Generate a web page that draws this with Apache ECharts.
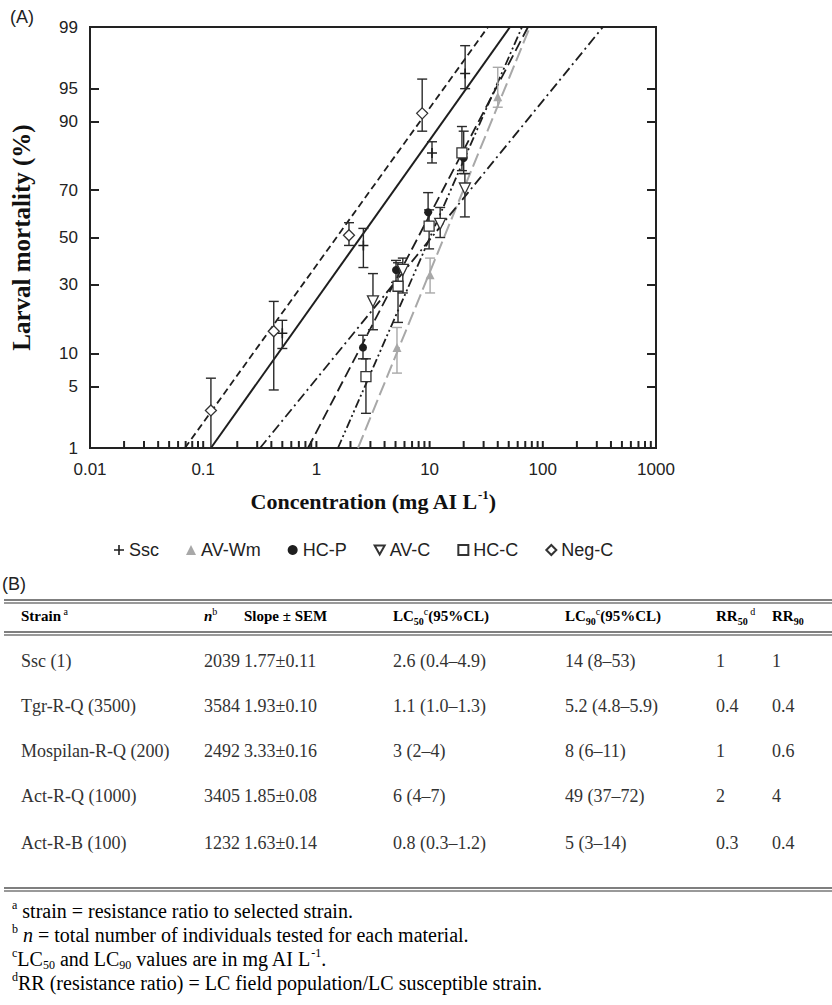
<!DOCTYPE html>
<html>
<head>
<meta charset="utf-8">
<script src="https://cdn.jsdelivr.net/npm/echarts@6/dist/echarts.min.js"></script>
<style>
html,body{margin:0;padding:0;background:#fff;}
#chart{width:832px;height:1005px;}
</style>
</head>
<body>
<div id="chart"></div>
<script>
// ---------- DATA ----------
const concLabels = [0.01, 0.1, 1, 10, 100, 1000];
const mortalityTicks = [1, 5, 10, 30, 50, 70, 90, 95, 99];
const strainNames = ['Ssc', 'AV-Wm', 'HC-P', 'AV-C', 'HC-C', 'Neg-C'];

// points: [concentration, mortality %, lower %, upper %]
const sscPoints   = [[0.5, 14.5, 11, 18], [2.6, 46.5, 37, 54], [10.5, 82.5, 79.5, 85.5], [20.6, 96.5, 95, 98.3]];
const avwmPoints  = [[5.15, 11.2, 6.7, 16], [10.1, 34, 27, 41], [40, 94, 92.5, 97]];
const hcpPoints   = [[2.58, 11.2, 9, 14], [5.05, 36, 31, 40], [9.7, 61, 55, 69], [20, 81, 76, 88]];
const avcPoints   = [[3.16, 24, 15.4, 34.5], [5.8, 36, 27, 41], [12.4, 56, 50, 63], [20.5, 70.6, 59, 76]];
const hccPoints   = [[2.74, 6.2, 2.6, 9], [5.26, 29.5, 17.4, 39], [9.9, 55, 45, 62], [19.3, 82.5, 77, 89]];
const negcPoints  = [[0.117, 2.8, 1, 6], [0.42, 15, 4.6, 24], [1.94, 51, 46.5, 56.5], [8.6, 91.5, 88, 96]];

// fitted probit lines: concentration where the line meets 1 % and 99 %
const sscFit  = [0.117, 51.3];
const avwmFit = [2.33, 77];
const hcpFit  = [0.843, 74];
const avcFit  = [0.318, 340];
const hccFit  = [1.55, 65.5];
const negcFit = [0.069, 32.8];

// table (B)
const tableStrains = ['Ssc (1)', 'Tgr-R-Q (3500)', 'Mospilan-R-Q (200)', 'Act-R-Q (1000)', 'Act-R-B (100)'];
const tableN      = ['2039', '3584', '2492', '3405', '1232'];
const tableSlope  = ['1.77±0.11', '1.93±0.10', '3.33±0.16', '1.85±0.08', '1.63±0.14'];
const tableLC50   = ['2.6 (0.4–4.9)', '1.1 (1.0–1.3)', '3 (2–4)', '6 (4–7)', '0.8 (0.3–1.2)'];
const tableLC90   = ['14 (8–53)', '5.2 (4.8–5.9)', '8 (6–11)', '49 (37–72)', '5 (3–14)'];
const tableRR50   = ['1', '0.4', '1', '2', '0.3'];
const tableRR90   = ['1', '0.4', '0.6', '4', '0.4'];

// ---------- HELPERS ----------
function probit(pct) {
  const p = pct / 100;
  const a = [-3.969683028665376e+01, 2.209460984245205e+02, -2.759285104469687e+02, 1.383577518672690e+02, -3.066479806614716e+01, 2.506628277459239e+00];
  const b = [-5.447609879822406e+01, 1.615858368580409e+02, -1.556989798598866e+02, 6.680131188771972e+01, -1.328068155288572e+01];
  const c = [-7.784894002430293e-03, -3.223964580411365e-01, -2.400758277161838e+00, -2.549671010229583e+00, 4.374664141464968e+00, 2.938163982698783e+00];
  const d = [7.784695709041462e-03, 3.224671290700398e-01, 2.445134137142996e+00, 3.754408661907416e+00];
  const plow = 0.02425, phigh = 1 - plow;
  let q, r;
  if (p < plow) {
    q = Math.sqrt(-2 * Math.log(p));
    return (((((c[0]*q+c[1])*q+c[2])*q+c[3])*q+c[4])*q+c[5]) / ((((d[0]*q+d[1])*q+d[2])*q+d[3])*q+1);
  } else if (p <= phigh) {
    q = p - 0.5; r = q*q;
    return (((((a[0]*r+a[1])*r+a[2])*r+a[3])*r+a[4])*r+a[5])*q / (((((b[0]*r+b[1])*r+b[2])*r+b[3])*r+b[4])*r+1);
  } else {
    q = Math.sqrt(-2 * Math.log(1 - p));
    return -(((((c[0]*q+c[1])*q+c[2])*q+c[3])*q+c[4])*q+c[5]) / ((((d[0]*q+d[1])*q+d[2])*q+d[3])*q+1);
  }
}
const zMin = probit(1), zMax = probit(99);
const yTickZ = mortalityTicks.map(probit);
const yInnerZ = mortalityTicks.slice(1, -1).map(probit);
function yLabel(v) {
  let best = 0, bd = Infinity;
  yTickZ.forEach((z, i) => { const dd = Math.abs(z - v); if (dd < bd) { bd = dd; best = i; } });
  return String(mortalityTicks[best]);
}
const xLabelLog = concLabels.map(v => Math.log10(v));
function xLabel(v) {
  let best = 0, bd = Infinity;
  xLabelLog.forEach((l, i) => { const dd = Math.abs(l - v); if (dd < bd) { bd = dd; best = i; } });
  return String(concLabels[best]);
}
// tick marks of the concentration axis: 2..9 in every decade plus inner decades
const xTickConc = [];
concLabels.slice(0, -1).forEach((dec, i) => {
  for (let k = 2; k <= 9; k++) xTickConc.push(+(k * dec).toPrecision(3));
  if (i > 0) xTickConc.push(dec);
});

const toPts = arr => arr.map(p => [p[0], probit(p[1])]);
const toErr = arr => arr.map(p => [p[0], probit(p[2]), probit(p[3])]);
const toFit = f => [[f[0], zMin], [f[1], zMax]];

const DARK = '#1e1e1e', GREY = '#a8a8a8';
const plusPath = 'path://M4.2,0H5.8V4.2H10V5.8H5.8V10H4.2V5.8H0V4.2H4.2Z';
const downTri = 'path://M0,0L10,0L5,9Z';

const seriesStyle = {
  'Ssc':   { pts: sscPoints,  fit: sscFit,  symbol: plusPath, size: 10, fill: DARK, border: DARK, bw: 0, line: 'solid', lw: 2, color: DARK },
  'AV-Wm': { pts: avwmPoints, fit: avwmFit, symbol: 'triangle', size: 9, fill: GREY, border: GREY, bw: 0, line: [14, 5], lw: 2, color: GREY },
  'HC-P':  { pts: hcpPoints,  fit: hcpFit,  symbol: 'circle', size: 8, fill: DARK, border: DARK, bw: 0, line: [11, 5], lw: 1.8, color: DARK },
  'AV-C':  { pts: avcPoints,  fit: avcFit,  symbol: downTri, size: 11, fill: '#fff', border: '#333', bw: 1.3, line: [10, 4, 2, 4], lw: 1.8, color: DARK },
  'HC-C':  { pts: hccPoints,  fit: hccFit,  symbol: 'rect', size: 10, fill: '#fff', border: '#333', bw: 1.3, line: [9, 3, 2, 3, 2, 3], lw: 1.8, color: DARK },
  'Neg-C': { pts: negcPoints, fit: negcFit, symbol: 'diamond', size: 11, fill: '#fff', border: '#333', bw: 1.3, line: [7, 4], lw: 1.8, color: DARK }
};

// data are placed with the (hidden) logarithmic axis xAxis[1]
const series = [];
strainNames.forEach(name => {
  const s = seriesStyle[name];
  series.push({
    name: name + ' fit', type: 'line', xAxisIndex: 1, yAxisIndex: 0,
    data: toFit(s.fit), symbol: 'none', silent: true, z: 2,
    lineStyle: { color: s.color, width: s.lw, type: s.line }
  });
});
strainNames.forEach(name => {
  const s = seriesStyle[name];
  series.push({
    name: name + ' err', type: 'custom', xAxisIndex: 1, yAxisIndex: 0, z: 3, silent: true,
    data: toErr(s.pts),
    encode: { x: 0, y: [1, 2] },
    renderItem: function (params, api) {
      const x = api.value(0);
      const p1 = api.coord([x, api.value(1)]);
      const p2 = api.coord([x, api.value(2)]);
      const hw = 5;
      const st = { stroke: s.color === GREY ? GREY : '#2a2a2a', lineWidth: 1.4 };
      return { type: 'group', children: [
        { type: 'line', shape: { x1: p1[0], y1: p1[1], x2: p2[0], y2: p2[1] }, style: st },
        { type: 'line', shape: { x1: p1[0]-hw, y1: p1[1], x2: p1[0]+hw, y2: p1[1] }, style: st },
        { type: 'line', shape: { x1: p2[0]-hw, y1: p2[1], x2: p2[0]+hw, y2: p2[1] }, style: st }
      ]};
    }
  });
});
strainNames.forEach(name => {
  const s = seriesStyle[name];
  series.push({
    name: name, type: 'scatter', xAxisIndex: 1, yAxisIndex: 0, z: 4,
    data: toPts(s.pts), symbol: s.symbol, symbolSize: s.size,
    itemStyle: { color: s.fill, borderColor: s.border, borderWidth: s.bw, opacity: 1 }
  });
});
// inward tick marks of the logarithmic concentration axis
series.push({
  name: 'x ticks', type: 'scatter', xAxisIndex: 1, yAxisIndex: 0, z: 6, silent: true, clip: false,
  data: xTickConc.map(v => [v, zMin]),
  symbol: 'rect', symbolSize: [2, 7], symbolOffset: [0, -3.5],
  itemStyle: { color: '#222', opacity: 1 }
});

// ---------- GRAPHICS (labels, table, footnotes) ----------
const SERIF = '"Liberation Serif", "DejaVu Serif", serif';
const SANS = '"Liberation Sans", Arial, sans-serif';
const graphics = [];
graphics.push({ type: 'text', x: 10, y: 17, style: { text: '(A)', font: '18px ' + SANS, fill: '#222', verticalAlign: 'middle' } });
graphics.push({ type: 'text', x: 2, y: 584, style: { text: '(B)', font: '18px ' + SANS, fill: '#222', verticalAlign: 'middle' } });

function rule(y) {
  graphics.push({ type: 'line', shape: { x1: 4, y1: y, x2: 832, y2: y }, style: { stroke: '#555', lineWidth: 1.3 } });
  graphics.push({ type: 'line', shape: { x1: 4, y1: y + 3, x2: 832, y2: y + 3 }, style: { stroke: '#777', lineWidth: 1.3 } });
}
rule(600); rule(632); rule(888);

const colX = [21, 204, 244, 393, 565, 716, 772];
const headRich = {
  h:   { fontFamily: SERIF, fontWeight: 'bold', fontSize: 15, lineHeight: 20, color: '#222', verticalAlign: 'middle' },
  hi:  { fontFamily: SERIF, fontWeight: 'bold', fontStyle: 'italic', fontSize: 15, lineHeight: 20, color: '#222', verticalAlign: 'middle' },
  sup: { fontFamily: SERIF, fontSize: 10, lineHeight: 20, color: '#222', verticalAlign: 'top' },
  sub: { fontFamily: SERIF, fontWeight: 'bold', fontSize: 10, lineHeight: 20, color: '#222', verticalAlign: 'bottom' }
};
const headers = [
  '{h|Strain}{sup| a}',
  '{hi|n}{sup|b}',
  '{h|Slope ± SEM}',
  '{h|LC}{sub|50}{sup|c}{h|(95%CL)}',
  '{h|LC}{sub|90}{sup|c}{h|(95%CL)}',
  '{h|RR}{sub|50}{sup| d}',
  '{h|RR}{sub|90}'
];
headers.forEach((t, i) => {
  graphics.push({ type: 'text', x: colX[i], y: 616, style: { text: t, rich: headRich, verticalAlign: 'middle' } });
});
const rowY = [661, 706, 751, 796, 843];
const cols = [tableStrains, tableN, tableSlope, tableLC50, tableLC90, tableRR50, tableRR90];
rowY.forEach((y, r) => {
  cols.forEach((col, c) => {
    graphics.push({ type: 'text', x: colX[c], y: y, style: { text: col[r], font: '18px ' + SERIF, fill: '#333', verticalAlign: 'middle' } });
  });
});

const footRich = {
  f:   { fontFamily: SERIF, fontSize: 20, lineHeight: 24, color: '#333', verticalAlign: 'middle' },
  fi:  { fontFamily: SERIF, fontStyle: 'italic', fontSize: 20, lineHeight: 24, color: '#333', verticalAlign: 'middle' },
  sup: { fontFamily: SERIF, fontSize: 12, lineHeight: 24, color: '#333', verticalAlign: 'top' },
  sub: { fontFamily: SERIF, fontSize: 12, lineHeight: 24, color: '#333', verticalAlign: 'bottom' }
};
const footnotes = [
  '{sup|a}{f| strain = resistance ratio to selected strain.}',
  '{sup|b}{fi| n}{f| = total number of individuals tested for each material.}',
  '{sup|c}{f|LC}{sub|50}{f| and LC}{sub|90}{f| values are in mg AI L}{sup|-1}{f|.}',
  '{sup|d}{f|RR (resistance ratio) = LC field population/LC susceptible strain.}'
];
const footY = [911, 935, 959, 983];
footnotes.forEach((t, i) => {
  graphics.push({ type: 'text', x: 12, y: footY[i], style: { text: t, rich: footRich, verticalAlign: 'middle' } });
});

// ---------- CHART ----------
const chart = echarts.init(document.getElementById('chart'), null, { renderer: 'svg' });
chart.setOption({
  animation: false,
  backgroundColor: '#fff',
  grid: { left: 90, right: 176, top: 27, bottom: 557, show: true, borderColor: '#222', borderWidth: 2, backgroundColor: 'transparent' },
  legend: {
    data: strainNames, left: 109, top: 536, itemWidth: 10, itemHeight: 10, itemGap: 27,
    textStyle: { fontFamily: SANS, fontSize: 18, color: '#222' }, selectedMode: false
  },
  xAxis: [
    {
      // visible concentration axis in log10 units (labels)
      type: 'value', min: xLabelLog[0], max: xLabelLog[xLabelLog.length - 1], position: 'bottom',
      axisLine: { show: true, onZero: false, lineStyle: { color: '#222', width: 2 } },
      axisTick: { show: false },
      splitLine: { show: false },
      axisLabel: { fontFamily: SANS, fontSize: 17, color: '#222', margin: 13, customValues: xLabelLog, formatter: xLabel },
      name: '{t|Concentration (mg AI L}{s|-1}{t|)}', nameLocation: 'middle', nameGap: 40,
      nameTextStyle: { rich: {
        t: { fontFamily: SERIF, fontWeight: 'bold', fontSize: 22, lineHeight: 26, color: '#111', verticalAlign: 'middle' },
        s: { fontFamily: SERIF, fontWeight: 'bold', fontSize: 13, lineHeight: 26, color: '#111', verticalAlign: 'top' }
      } }
    },
    {
      // logarithmic axis used to place the data
      type: 'log', logBase: 10, min: concLabels[0], max: concLabels[concLabels.length - 1],
      show: false, position: 'top'
    }
  ],
  yAxis: [
    {
      type: 'value', min: zMin, max: zMax, position: 'left',
      axisLine: { show: true, onZero: false, lineStyle: { color: '#222', width: 2 } },
      axisTick: { show: true, inside: true, length: 9, lineStyle: { color: '#222', width: 2 }, customValues: yInnerZ },
      axisLabel: { fontFamily: SANS, fontSize: 17, color: '#222', margin: 12, customValues: yTickZ, formatter: yLabel },
      splitLine: { show: false },
      name: 'Larval mortality (%)', nameLocation: 'middle', nameGap: 56, nameRotate: 90,
      nameTextStyle: { fontFamily: SERIF, fontWeight: 'bold', fontSize: 25, color: '#111' }
    },
    {
      type: 'value', min: zMin, max: zMax, position: 'right',
      axisLine: { show: true, onZero: false, lineStyle: { color: '#222', width: 2 } },
      axisTick: { show: true, inside: true, length: 9, lineStyle: { color: '#222', width: 2 }, customValues: yInnerZ },
      axisLabel: { show: false }, splitLine: { show: false }
    }
  ],
  series: series,
  graphic: graphics
});
</script>
</body>
</html>
